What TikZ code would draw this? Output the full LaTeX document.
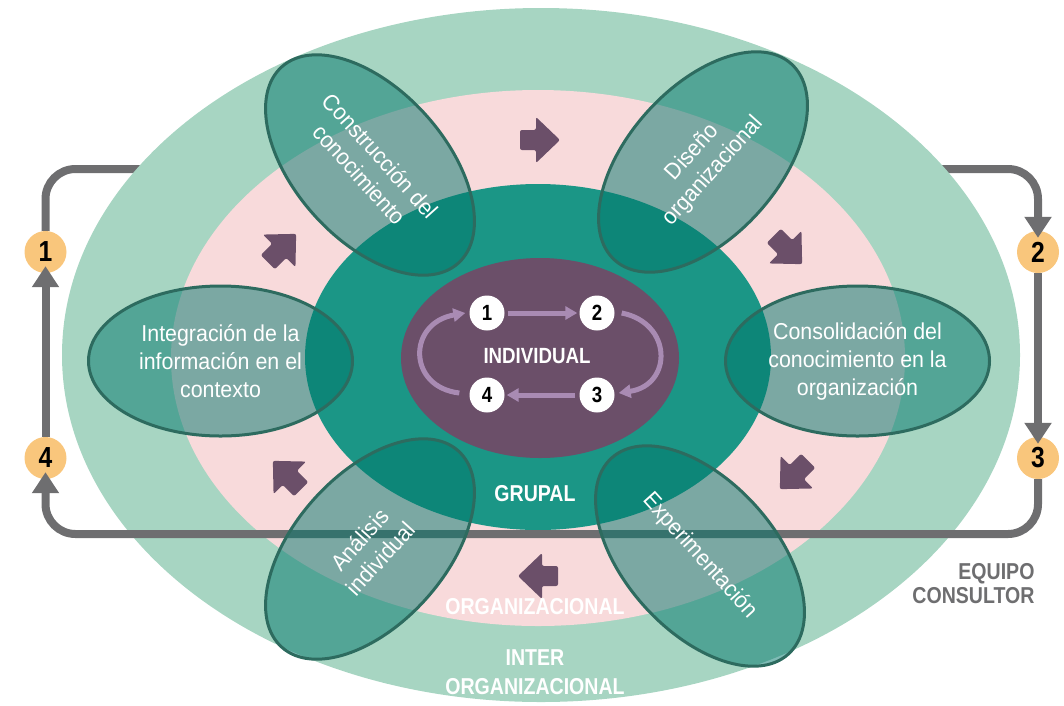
\documentclass[tikz,border=0pt]{standalone}
\usepackage{fontspec}
\setmainfont{Liberation Sans}[FakeStretch=0.93]
\newfontfamily\headfont{Liberation Sans}[FakeStretch=0.85]
\usetikzlibrary{arrows.meta,calc,shapes.geometric}

\definecolor{outergreen}{HTML}{A7D5C2}
\definecolor{pinkring}{HTML}{F8DADB}
\definecolor{grupteal}{HTML}{1B9686}
\definecolor{indpurple}{HTML}{6B4F69}
\definecolor{lavender}{HTML}{A98BB3}
\definecolor{loopgray}{HTML}{6E6E70}
\definecolor{stepgold}{HTML}{F9C67C}
\definecolor{lobefill}{HTML}{00776C}
\definecolor{lobeedge}{HTML}{2D6B5F}

\tikzset{
  blockarrow/.pic={
    \fill[indpurple, rounded corners=2pt]
      (-20,-10) -- (-4,-10) -- (-4,-23) -- (20,0) -- (-4,23) -- (-4,10) -- (-20,10) -- cycle;
  }
}

\begin{document}
\begin{tikzpicture}[x=1pt, y=-1pt,
  ring/.style={ellipse, inner sep=0pt, outer sep=0pt},
  lobe/.style={ellipse, draw=lobeedge, line width=3pt, fill=lobefill, fill opacity=0.5,
    text opacity=1, text=white, minimum width=264pt, minimum height=150pt, inner sep=0pt,
    align=center, font=\fontsize{23}{28}\selectfont},
  bandlabel/.style={text=white, align=center, font=\headfont\bfseries\fontsize{23}{29}\selectfont},
  stepdot/.style={circle, fill=stepgold, minimum size=42pt, inner sep=0pt,
    font=\headfont\bfseries\fontsize{29}{29}\selectfont},
  innerdot/.style={circle, fill=white, minimum size=35pt, inner sep=0pt,
    font=\headfont\bfseries\fontsize{22}{22}\selectfont},
  loopline/.style={draw=loopgray, line width=8pt, rounded corners=30pt},
  looptip/.style={-{Triangle[width=26pt,length=21pt]}},
  innerarrow/.style={draw=lavender, line width=5pt, -{Triangle[width=13pt,length=12pt]}}
]
\useasboundingbox (0,0) rectangle (1064,705);

% consultant-team loop markers
\node[stepdot] (o1) at (45.5,252) {1};
\node[stepdot] (o2) at (1038,252) {2};
\node[stepdot] (o3) at (1038,458) {3};
\node[stepdot] (o4) at (45.5,458) {4};

% upper run of the loop passes behind the rings
\draw[loopline, looptip] (o1.north) -- (45.5,169) -- (1038,169) -- ($(o2.north)+(0,7)$);

% nested levels
\node[ring, fill=outergreen, minimum width=958pt, minimum height=694pt] (inter) at (541,355) {};
\node[ring, fill=pinkring, minimum width=734pt, minimum height=536pt] (org) at (538,358) {};
\node[ring, fill=grupteal, minimum width=466pt, minimum height=346pt] (grup) at (538,357) {};
\node[ring, fill=indpurple, minimum width=278pt, minimum height=200pt] (indiv) at (540,358) {};

% remaining runs of the loop
\draw[loopline, looptip] (o4.north) -- ($(o1.south)+(0,-7)$);
\draw[loopline, looptip] (o2.south) -- ($(o3.north)+(0,7)$);
\draw[loopline, looptip] (o3.south) -- (1038,534) -- (45.5,534) -- ($(o4.south)+(0,-7)$);

% flow arrows in the organisational ring
\pic[rotate=0] at (540,140) {blockarrow};
\pic[rotate=-45] at (788,250) {blockarrow};
\pic[rotate=-135] at (794,475) {blockarrow};
\pic[rotate=180] at (538,576) {blockarrow};
\pic[rotate=135] at (287,475) {blockarrow};
\pic[rotate=45] at (282,248) {blockarrow};

% individual cycle
\node[innerdot] (c1) at (487,313) {1};
\node[innerdot] (c2) at (597,313) {2};
\node[innerdot] (c3) at (597,395) {3};
\node[innerdot] (c4) at (487,395) {4};
\draw[innerarrow, shorten <=3pt, shorten >=2pt] (c1.east) -- (c2.west);
\draw[innerarrow, shorten <=4pt, shorten >=2pt] (c3.west) -- (c4.east);
\draw[innerarrow] ($(c2.east)+(7,0)$) .. controls ($(c2.east)+(58,10)$) and ($(c3.east)+(58,-10)$) .. ($(c3.east)+(4,-2)$);
\draw[innerarrow] ($(c4.west)+(-10,-2)$) .. controls ($(c4.west)+(-62,-8)$) and ($(c1.west)+(-62,10)$) .. ($(c1.west)+(-4,0)$);

% level labels
\node[bandlabel, font=\headfont\bfseries\fontsize{22}{22}\selectfont] (tind) at (537,356) {INDIVIDUAL};
\node[bandlabel] (tgrup) at (535,494) {GRUPAL};
\node[bandlabel] (torg) at (535,607) {ORGANIZACIONAL};
\node[bandlabel] (tinter) at (535,672) {INTER\\ORGANIZACIONAL};
\node[bandlabel, text=loopgray, anchor=east, align=right,
  font=\headfont\bfseries\fontsize{23}{24}\selectfont] (tteam) at (1038,584) {EQUIPO\\CONSULTOR};

% knowledge-cycle stages
\node[lobe] (integ) at (220.5,361) {Integración de la\\información en el\\contexto};
\node[lobe] (consol) at (857.5,361) {Consolidación del\\conocimiento en la\\organización};
\node[lobe, rotate=-48] (constr) at (370,165) {Construcción del\\conocimiento};
\node[lobe, rotate=48] (design) at (703,162) {Diseño\\organizacional};
\node[lobe, rotate=-48] (exper) at (700,556) {Experimentación};
\node[lobe, rotate=48] (analy) at (370,549) {Análisis\\individual};
\end{tikzpicture}
\end{document}
